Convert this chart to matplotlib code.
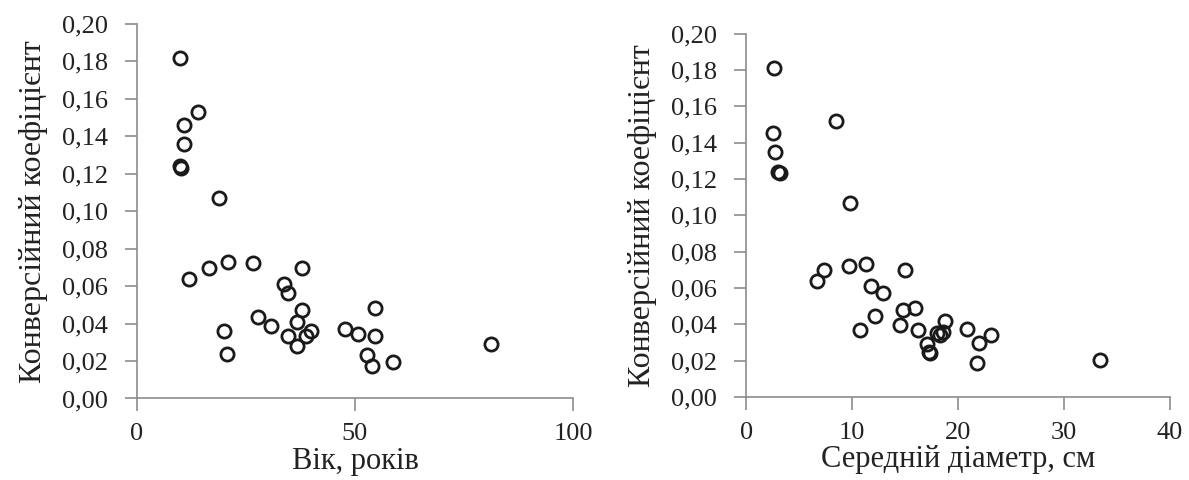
import matplotlib
matplotlib.use("Agg")
import matplotlib.pyplot as plt
from matplotlib.ticker import FuncFormatter

# ---------- data ----------
age = [9.9, 13.9, 10.9, 10.9, 9.9, 10.0, 18.7,
       11.9, 16.6, 20.8, 26.7, 37.8, 33.8, 34.7, 37.8, 27.7, 30.8, 36.6,
       39.9, 34.7, 38.8, 36.6, 19.9, 20.7,
       47.8, 50.8, 54.6, 54.6, 52.7, 53.9, 58.7, 81.1]
conv_age = [0.182, 0.153, 0.146, 0.136, 0.124, 0.123, 0.107,
            0.064, 0.0695, 0.0729, 0.0722, 0.0695, 0.061, 0.0565, 0.047, 0.0433, 0.0387, 0.0406,
            0.0363, 0.0333, 0.0333, 0.0281, 0.036, 0.0237,
            0.0369, 0.0346, 0.0333, 0.0485, 0.0232, 0.0176, 0.0196, 0.029]

diam = [2.6, 8.5, 2.5, 2.7, 3.0, 3.2, 9.8,
        7.3, 6.7, 9.7, 11.3, 15.0, 11.8, 12.9, 12.2, 10.7, 14.8, 15.9,
        14.5, 16.2, 18.8,
        18.0, 18.3, 18.6, 17.1, 17.3, 17.4, 20.9, 22.0, 23.1, 21.8, 33.4]
conv_diam = [0.181, 0.152, 0.145, 0.135, 0.124, 0.123, 0.107,
             0.070, 0.064, 0.072, 0.0734, 0.070, 0.061, 0.057, 0.0446, 0.037, 0.0477, 0.0488,
             0.0395, 0.037, 0.042,
             0.035, 0.034, 0.036, 0.0294, 0.0248, 0.024, 0.0374, 0.0297, 0.0341, 0.0189, 0.0202]

y_ticks = [0.00, 0.02, 0.04, 0.06, 0.08, 0.10, 0.12, 0.14, 0.16, 0.18, 0.20]
age_ticks = [0, 50, 100]
diam_ticks = [0, 10, 20, 30, 40]

ylab = "Конверсійний коефіцієнт"

plt.rcParams.update({"font.family": ["Liberation Serif", "DejaVu Serif"], "font.size": 19})
fig = plt.figure(figsize=(11.89, 4.80), dpi=100)
ax1 = fig.add_axes([0.1152, 0.1698, 0.3667, 0.7802])
ax2 = fig.add_axes([0.6278, 0.1729, 0.3558, 0.7573])

comma = FuncFormatter(lambda v, p: f"{v:.2f}".replace(".", ","))

def style(ax, xt, xlim, xlabel):
    ax.set_xlim(*xlim)
    ax.set_ylim(0, 0.2)
    ax.set_xticks(xt)
    ax.set_yticks(y_ticks)
    ax.yaxis.set_major_formatter(comma)
    for s in ("top", "right"):
        ax.spines[s].set_visible(False)
    for s in ("left", "bottom"):
        ax.spines[s].set_color("#8c8c8c")
        ax.spines[s].set_linewidth(1.2)
    ax.tick_params(axis="both", colors="#8c8c8c", length=9, width=1.2,
                   labelcolor="#222222", labelsize=19)
    ax.tick_params(axis="y", pad=12)
    ax.tick_params(axis="x", pad=9)
    ax.set_xlabel(xlabel, fontsize=22, color="#222222", labelpad=1)
    ax.set_ylabel(ylab, fontsize=23, color="#222222", labelpad=10)

ax1.plot(age, conv_age, "o", ms=9.5, mfc="none", mec="#1a1a1a", mew=2.0, clip_on=False)
style(ax1, age_ticks, (0, 100), "Вік, років")

ax2.plot(diam, conv_diam, "o", ms=9.5, mfc="none", mec="#1a1a1a", mew=2.0, clip_on=False)
style(ax2, diam_ticks, (0, 40), "Середній діаметр, см")

fig.savefig("out.png", dpi=100)
